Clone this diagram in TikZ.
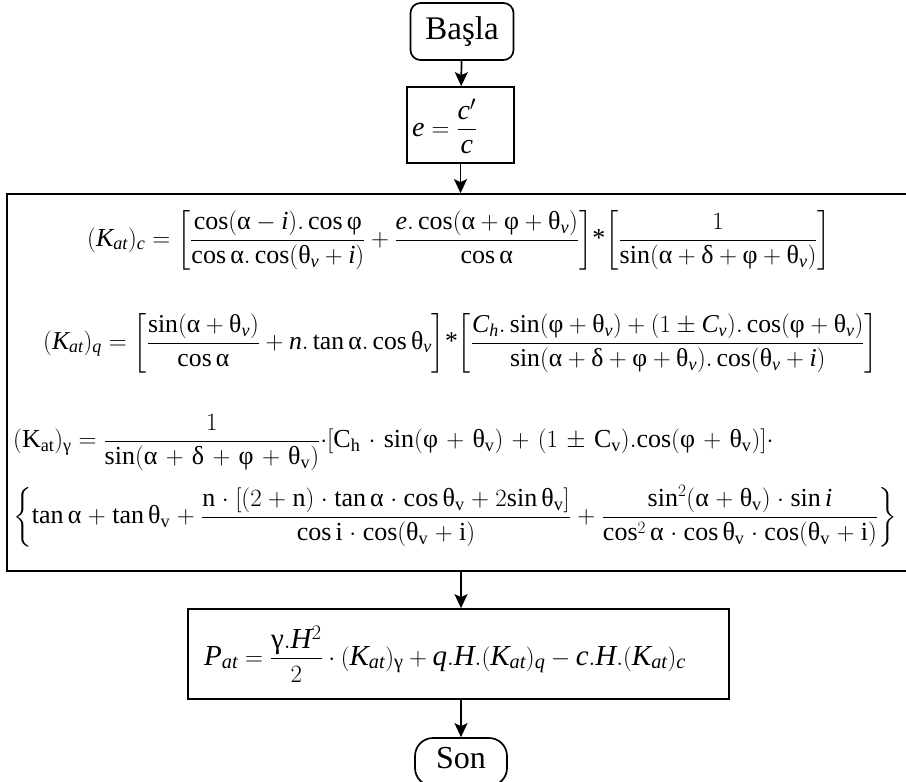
\documentclass[tikz,border=0pt]{standalone}
\usepackage{amsmath}
\usepackage{fontspec}
\setmainfont{Liberation Serif}
\usetikzlibrary{arrows.meta}
\DeclareSymbolFont{operators}{TU}{\rmdefault}{m}{n}
\DeclareSymbolFont{tlet}{TU}{\rmdefault}{m}{it}
\makeatletter
\def\tl@set#1{\DeclareMathSymbol{#1}{\mathalpha}{tlet}{`#1}}
\@tfor\tl@x:=abcdefghijklmnopqrstuvwxyzABCDEFGHIJKLMNOPQRSTUVWXYZ\do{\expandafter\tl@set\tl@x}
\makeatother
\newcommand\tga{\text{α}}
\newcommand\tgd{\text{δ}}
\newcommand\tgf{\text{φ}}
\newcommand\tgt{\text{θ}}
\newcommand\tgg{\text{γ}}
\newcommand\rv{{\mathrm v}}
\newcommand\sstar{\mathord{\text{*}}}
\begin{document}
\begin{tikzpicture}[x=1pt,y=-1pt,
  box/.style={draw, line width=1.7pt, inner sep=0pt},
  fml/.style={inner sep=0pt, font=\fontsize{25}{30}\selectfont},
  arr/.style={line width=1.7pt, -{Stealth[length=14pt,width=13pt,inset=3pt]}}]
\useasboundingbox (0,0) rectangle (906,782);
% boxes
\node[box, rounded corners=10pt, minimum width=103pt, minimum height=57pt, font=\fontsize{33}{38}\selectfont] (start) at (462,31.5) {Başla};
\node[box, minimum width=107pt, minimum height=76pt] (e) at (460.5,125) {};
\node[fml, font=\fontsize{28}{32}\selectfont, anchor=west] (etext) at (412,126) {$e=\dfrac{c'}{c}$};
\node[box, minimum width=901pt, minimum height=377pt] (main) at (457.5,382.5) {};
\node[box, minimum width=541pt, minimum height=90pt] (P) at (458.5,654) {};
\node[fml, font=\fontsize{29}{33}\selectfont, anchor=west] (ptext) at (204,654) {$P_{at}=\dfrac{\tgg.H^{\scriptstyle 2}}{2}\cdot(K_{at})_{\tgg}+q.H.(K_{at})_q-c.H.(K_{at})_c$};
\node[box, rounded corners=18pt, minimum width=92pt, minimum height=48pt, text depth=8pt, font=\fontsize{32}{36}\selectfont] (son) at (461,762) {Son};
% formulas in main box
\node[fml, font=\fontsize{26}{30}\selectfont, anchor=west] (l1) at (87,240) {$(K_{at})_c={\left[\dfrac{\cos(\tga-i).\cos\tgf}{\cos\tga.\cos(\tgt_v+i)}+\dfrac{e.\cos(\tga+\tgf+\tgt_v)}{\cos\tga}\right]}\sstar{\left[\dfrac{1}{\sin(\tga+\tgd+\tgf+\tgt_v)}\right]}$};
\node[fml, font=\fontsize{25.7}{30}\selectfont, anchor=west] (l2) at (43,343) {$(K_{at})_q={\left[\dfrac{\sin(\tga+\tgt_v)}{\cos\tga}+n.\tan\tga.\cos\tgt_v\right]}\sstar{\left[\dfrac{C_h.\sin(\tgf+\tgt_v)+(1\pm C_v).\cos(\tgf+\tgt_v)}{\sin(\tga+\tgd+\tgf+\tgt_v).\cos(\tgt_v+i)}\right]}$};
\node[fml, font=\fontsize{26}{30}\selectfont, anchor=west] (l3) at (13,443) {$\medmuskip=6mu (\mathrm{K}_{\mathrm{at}})_{\tgg}=\dfrac{1}{\sin(\tga+\tgd+\tgf+\tgt_\rv)}{\cdot}[\mathrm{C}_{\mathrm h}\cdot\sin(\tgf+\tgt_\rv)+(1\pm \mathrm{C}_\rv).{\cos}(\tgf+\tgt_\rv)]{\cdot}$};
\node[fml, font=\fontsize{26}{30}\selectfont, anchor=west] (l4) at (13,516) {$\medmuskip=4.7mu \left\{\tan\tga+\tan\tgt_\rv+\dfrac{\mathrm n\cdot[(2+\mathrm n)\cdot\tan\tga\cdot\cos\tgt_\rv+2{\sin}\,\tgt_\rv]}{\cos\mathrm i\cdot\cos(\tgt_\rv+\mathrm i)}+\dfrac{\sin^2(\tga+\tgt_\rv)\cdot\sin i}{\cos^2\tga\cdot\cos\tgt_\rv\cdot\cos(\tgt_\rv+\mathrm i)}\right\}$};
% connectors
\draw[arr] (start) -- (e);
\draw[arr] (e) -- (e.south |- main.north);
\draw[arr] (main.south -| son.north) -- (P.north -| son.north);
\draw[arr] (P.south -| son.north) -- (son);
\end{tikzpicture}
\end{document}
